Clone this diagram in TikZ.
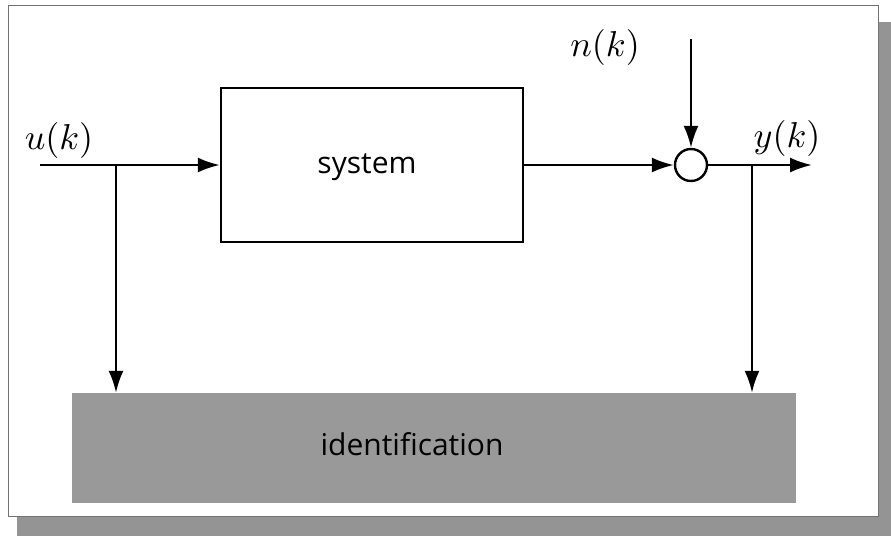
\documentclass[tikz,border=0pt]{standalone}
\usepackage{graphicx}
\usepackage{fontspec}
\setsansfont{Open Sans}
\usetikzlibrary{arrows.meta}
\newcommand{\biglabel}[1]{\scalebox{3.6}{$#1$}}
\begin{document}
\begin{tikzpicture}[x=1pt,y=-1pt,
  wire/.style={line width=2.4pt},
  sig/.style={wire,-{Latex[length=22pt,width=15pt]}},
  blocklabel/.style={font=\sffamily\fontsize{30}{36}\selectfont},
  mathlabel/.style={anchor=base,inner sep=0pt},
  sysbox/.style={draw,line width=2.4pt,minimum width=302pt,minimum height=154pt,inner sep=0pt},
  idbox/.style={fill=black!40,minimum width=724pt,minimum height=110pt,inner sep=0pt},
  sumjunction/.style={draw,circle,line width=2.4pt,minimum size=32pt,inner sep=0pt}]
  \useasboundingbox (0,0) rectangle (891,536);
  % drop shadow and paper frame
  \fill[black!42] (17,22) rectangle (891,536);
  \filldraw[fill=white,draw=black!55,line width=0.7pt] (8,5) rectangle (878,516);

  % blocks
  \node[sysbox] (sys) at (372,165) {};
  \node[blocklabel,anchor=base] (syslabel) at (367,173) {system};
  \node[sumjunction] (sum) at (691,165) {};
  \node[idbox] (ident) at (434,448) {};
  \node[blocklabel,anchor=base] (idlabel) at (412,455) {identification};

  % signal labels
  \node[mathlabel] (ulabel) at (59,149) {\biglabel{u(k)}};
  \node[mathlabel] (nlabel) at (605,56) {\biglabel{n(k)}};
  \node[mathlabel] (ylabel) at (787,147) {\biglabel{y(k)}};

  % connector end points
  \coordinate (uin) at (40,165);
  \coordinate (ubranch) at (116,165);
  \coordinate (nin) at (691,39);
  \coordinate (yout) at (812,165);
  \coordinate (ybranch) at (752,165);

  % signal flow
  \draw[sig] (uin) -- (sys.west);
  \draw[sig] (sys.east) -- (sum.west);
  \draw[sig] (nin) -- (sum.north);
  \draw[sig] (sum.east) -- (yout);
  \draw[sig] (ubranch) -- (ubranch |- ident.north);
  \draw[sig] (ybranch) -- (ybranch |- ident.north);
\end{tikzpicture}
\end{document}
